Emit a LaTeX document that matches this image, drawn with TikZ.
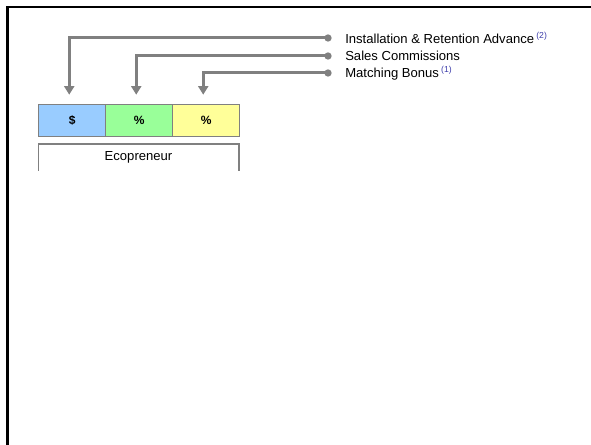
\documentclass[tikz,border=0pt]{standalone}
\usepackage{fontspec}
\setmainfont{Liberation Sans}
\usetikzlibrary{matrix,arrows.meta}
\definecolor{linegray}{RGB}{128,128,128}
\definecolor{cellblue}{RGB}{153,204,255}
\definecolor{cellgreen}{RGB}{153,255,153}
\definecolor{cellyellow}{RGB}{255,255,153}
\definecolor{noteblue}{RGB}{60,60,170}
\newcommand\supnote[1]{\,\textsuperscript{\color{noteblue}\fontsize{6.5}{7}\selectfont(#1)}}

\begin{document}
\begin{tikzpicture}[x=0.75pt,y=-0.75pt,
 every node/.style={font=\fontsize{9.8}{11}\selectfont},
 conn/.style={draw=linegray,line width=2.25pt,
 -{Triangle[width=7.5pt,length=6.5pt]},shorten >=7.5pt},
 dot/.style={circle,fill=linegray,inner sep=0pt,minimum size=5.5pt},
 lbl/.style={anchor=west,inner sep=0pt},
 ]
 \def\mylinewidth{1.1pt}
 \def\px{0.75pt}
 \useasboundingbox (0,0) rectangle (591,445);
 % frame
 \draw[line width=2pt] (591,7) -- (7.5,7) -- (7.5,445);
 \matrix[matrix of nodes, anchor=north west,inner sep=0pt,outer sep=0pt,
 nodes={draw=linegray,line width=\mylinewidth,minimum width=67*\px,
 minimum height=32*\px,anchor=center,font=\bfseries\fontsize{9}{11}\selectfont},
 column sep=-\mylinewidth](mat) at (38,104) {
   |[fill=cellblue]| \$ & |[fill=cellgreen]| \% & |[fill=cellyellow]| \% \\
 };
 \node[minimum width=200*\px,minimum height=26*\px,anchor=north,inner sep=0pt]
 (eco) at (138.5,144) {Ecopreneur};
 \draw[linegray,line width=\mylinewidth] (eco.south west) -- (eco.north west)
 -- (eco.north east) -- (eco.south east);
 % dots and labels
 \foreach \Y [count=\i] in {38,56,73}
 {\node[dot] (dot\i) at (328,\Y) {};}
 \node[lbl] (lab1) at (345,38) {Installation \& Retention Advance\supnote{2}};
 \node[lbl] (lab2) at (345,56) {Sales Commissions};
 \node[lbl] (lab3) at (345,73) {Matching Bonus\supnote{1}};
 \foreach \i in {1,2,3}
 {\draw[conn] (dot\i.center) -| ([xshift=-3*\px]mat-1-\i.north);}
\end{tikzpicture}
\end{document}
